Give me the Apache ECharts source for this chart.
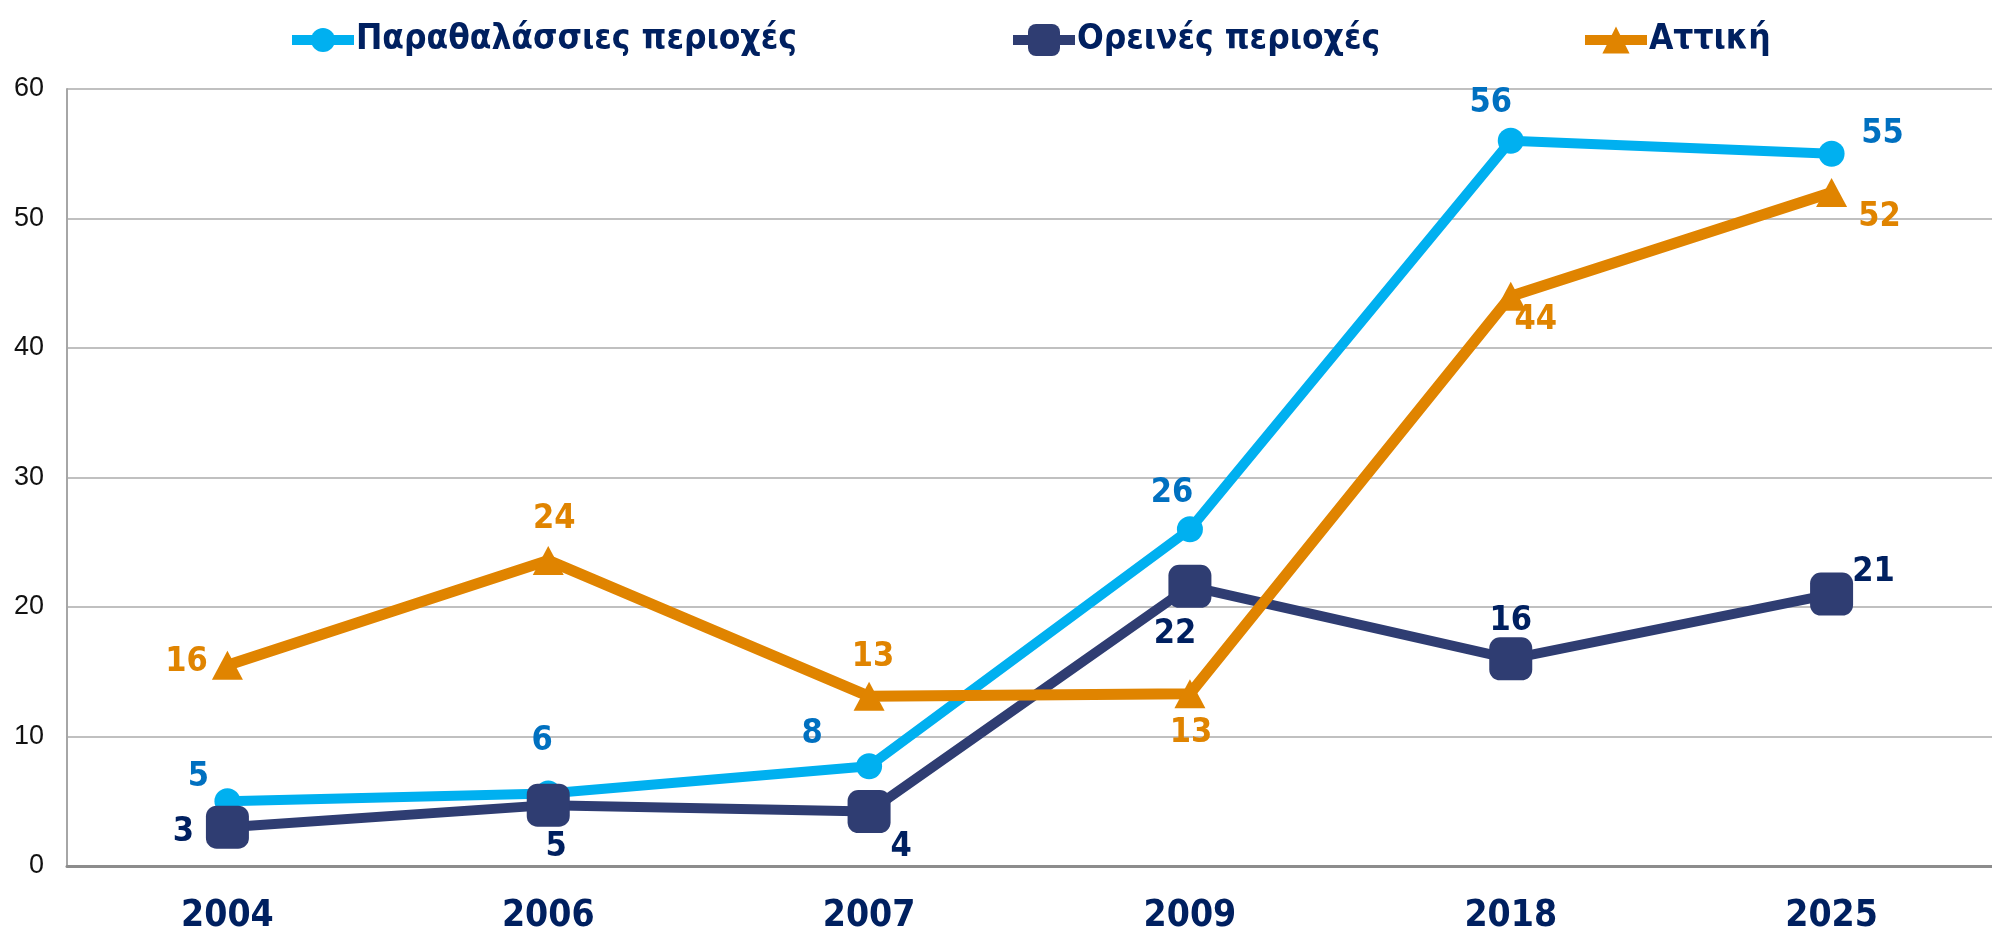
<!DOCTYPE html>
<html>
<head>
<meta charset="utf-8">
<script src="https://cdn.jsdelivr.net/npm/echarts@6/dist/echarts.min.js"></script>
<style>
  html, body { margin: 0; padding: 0; background: #fff; }
  #chart { width: 1992px; height: 937px; }
</style>
</head>
<body>
<div id="chart"></div>
<script>
let years = ['2004', '2006', '2007', '2009', '2018', '2025'];
let seaData = [5.0, 5.6, 7.7, 26.0, 56.0, 55.0];
let mountData = [3.0, 4.7, 4.2, 21.6, 16.0, 21.0];
let atticaData = [15.5, 23.6, 13.1, 13.3, 44.0, 52.0];
let yTicks = [0, 10, 20, 30, 40, 50, 60];
let seriesNames = ['Παραθαλάσσιες περιοχές', 'Ορεινές περιοχές', 'Αττική'];

// label offsets (px) from each point
let seaOffsets = [[-29, -24], [-6, -52], [-57, -32], [-18, -36], [-20, -38], [51, -20]];
let mountOffsets = [[-44, 5], [8, 42], [32, 36], [-15, 48], [0, -38], [42, -22]];
let atticaOffsets = [[-41, -3], [6, -41], [4, -39], [1, 39], [25, 24], [48, 25]];

let narrow = '"Liberation Sans Narrow", "Arial Narrow", "DejaVu Sans Condensed", sans-serif';

function withLabels(values, offsets, color) {
    return values.map(function (v, i) {
        return {
            value: v,
            label: {
                show: true,
                position: 'inside',
                offset: offsets[i],
                color: color,
                fontFamily: narrow,
                fontWeight: 'bold',
                fontSize: 34,
                formatter: function (p) { return Math.round(p.value); }
            }
        };
    });
}

function legendAt(name, left, h) {
    return {
        top: 14,
        height: 42,
        left: left,
        itemWidth: 62,
        itemHeight: h,
        lineStyle: { width: 10 },
        textStyle: {
            color: '#002060',
            fontFamily: narrow,
            fontWeight: 'bold',
            fontSize: 35,
            lineHeight: 42,
            padding: [0, 0, 0, -3]
        },
        data: [name]
    };
}

let myChart = echarts.init(document.getElementById('chart'));

let option = {
    animation: false,
    legend: [
        legendAt(seriesNames[0], 282, 30),
        legendAt(seriesNames[1], 1003, 40),
        legendAt(seriesNames[2], 1575, 34)
    ],
    grid: {
        left: 67,
        right: -21,
        top: 89,
        bottom: 71
    },
    xAxis: {
        type: 'category',
        data: years,
        boundaryGap: true,
        axisLine: { lineStyle: { color: '#8c8c8c', width: 3 } },
        axisTick: { show: false },
        axisLabel: {
            margin: 32,
            color: '#002060',
            fontFamily: narrow,
            fontWeight: 'bold',
            fontSize: 37
        }
    },
    yAxis: {
        type: 'value',
        min: yTicks[0],
        max: yTicks[yTicks.length - 1],
        interval: 10,
        axisLine: { show: true, lineStyle: { color: '#a6a6a6', width: 2 } },
        axisTick: { show: false },
        axisLabel: {
            margin: 23,
            color: '#111',
            fontFamily: 'Liberation Sans, Arial, sans-serif',
            fontSize: 27
        },
        splitLine: { lineStyle: { color: '#c0c0c0', width: 2 } }
    },
    series: [
        {
            name: seriesNames[0],
            type: 'line',
            data: withLabels(seaData, seaOffsets, '#0070C0'),
            symbol: 'circle',
            symbolSize: 26,
            itemStyle: { color: '#00B0F0' },
            lineStyle: { color: '#00B0F0', width: 10 },
            z: 2
        },
        {
            name: seriesNames[1],
            type: 'line',
            data: withLabels(mountData, mountOffsets, '#002060'),
            symbol: 'roundRect',
            symbolSize: 43,
            itemStyle: { color: '#2F3D72' },
            lineStyle: { color: '#2F3D72', width: 10 },
            z: 3
        },
        {
            name: seriesNames[2],
            type: 'line',
            data: withLabels(atticaData, atticaOffsets, '#E08400'),
            symbol: 'triangle',
            symbolSize: [31, 29],
            itemStyle: { color: '#E08400' },
            lineStyle: { color: '#E08400', width: 11 },
            z: 4
        }
    ]
};

myChart.setOption(option);
</script>
</body>
</html>
